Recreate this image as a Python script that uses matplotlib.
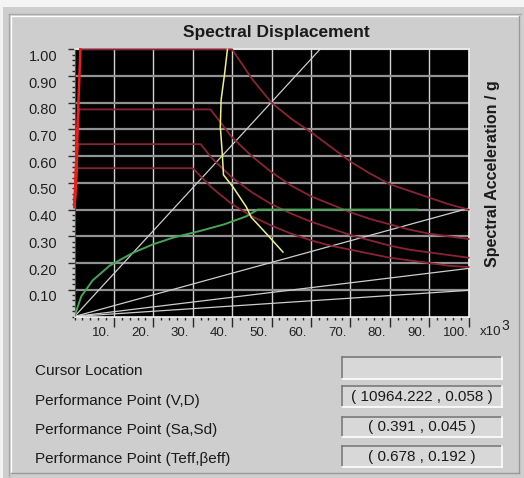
import matplotlib
matplotlib.use("Agg")
import matplotlib.pyplot as plt
from matplotlib.lines import Line2D
from matplotlib.patches import Rectangle
from matplotlib.ticker import MultipleLocator
from matplotlib.transforms import ScaledTranslation

plt.rcParams['font.family'] = ['Liberation Sans', 'DejaVu Sans']

# ---------------- data ----------------
x_ticks = [10, 20, 30, 40, 50, 60, 70, 80, 90, 100]
x_tick_labels = ['10.', '20.', '30.', '40.', '50.', '60.', '70.', '80.', '90.', '100.']
y_ticks = [0.10, 0.20, 0.30, 0.40, 0.50, 0.60, 0.70, 0.80, 0.90, 1.00]
y_tick_labels = ['0.10', '0.20', '0.30', '0.40', '0.50', '0.60', '0.70', '0.80', '0.90', '1.00']

# demand spectra (red)
demand_a_sd = [0, 1.5, 40, 45, 50, 55, 60, 65, 70, 75, 80, 85, 90, 95, 100]
demand_a_sa = [0.41, 1.0, 1.0, 0.89, 0.80, 0.74, 0.69, 0.635, 0.58, 0.535, 0.495, 0.47, 0.445, 0.42, 0.40]
demand_b_sd = [0, 1.0, 34.5, 40, 45, 50, 55, 60, 65, 70, 75, 80, 85, 90, 95, 100]
demand_b_sa = [0.41, 0.775, 0.775, 0.67, 0.60, 0.54, 0.49, 0.45, 0.42, 0.39, 0.365, 0.345, 0.325, 0.31, 0.30, 0.29]
demand_c_sd = [0, 0.8, 32, 35, 40, 45, 50, 55, 60, 65, 70, 75, 80, 85, 90, 95, 100]
demand_c_sa = [0.41, 0.645, 0.645, 0.59, 0.52, 0.465, 0.42, 0.385, 0.355, 0.33, 0.305, 0.285, 0.265, 0.25, 0.24, 0.23, 0.22]
demand_d_sd = [0, 0.6, 30, 35, 40, 45, 50, 55, 60, 65, 70, 75, 80, 85, 90, 95, 100]
demand_d_sa = [0.41, 0.555, 0.555, 0.48, 0.42, 0.375, 0.34, 0.31, 0.285, 0.265, 0.25, 0.235, 0.22, 0.21, 0.20, 0.19, 0.185]

# capacity curve (green)
capacity_sd = [0, 1.7, 4.6, 8.9, 14.8, 19.9, 25, 31.8, 38, 43.6, 46.5, 87]
capacity_sa = [0, 0.075, 0.135, 0.19, 0.238, 0.27, 0.295, 0.32, 0.345, 0.375, 0.40, 0.40]

# single demand / locus curve (yellow)
locus_sd = [38.8, 38.1, 37.2, 37.0, 37.5, 37.8, 40.2, 43.6, 44.8, 48.7, 52.9]
locus_sa = [1.0, 0.91, 0.81, 0.71, 0.61, 0.53, 0.485, 0.41, 0.372, 0.31, 0.241]

# constant-period radial lines (white), from origin to end point
period_end_sd = [62.3, 100, 100, 100]
period_end_sa = [1.0, 0.405, 0.18, 0.098]

info_labels = ['Cursor Location', 'Performance Point (V,D)',
               'Performance Point (Sa,Sd)', 'Performance Point (Teff,\u03b2eff)']
info_values = ['', '( 10964.222 , 0.058 )', '( 0.391 , 0.045 )', '( 0.678 , 0.192 )']

# ---------------- figure ----------------
W, H = 524, 478
BG = '#cecece'
fig = plt.figure(figsize=(W / 100, H / 100), dpi=100, facecolor=BG)


def fx(x):
    return x / W


def fy(y):
    return 1 - y / H


# window chrome
fig.add_artist(Rectangle((0, fy(6.5)), 1, 1 - fy(6.5), transform=fig.transFigure,
                         facecolor='#f4f4f4', edgecolor='none', zorder=0))
fig.add_artist(Rectangle((0, 0), fx(3), 1, transform=fig.transFigure,
                         facecolor='#f4f4f4', edgecolor='none', zorder=0))
fig.add_artist(Line2D([fx(9), fx(9)], [fy(14), fy(476)], transform=fig.transFigure, color='#a8a8a8', lw=1))
fig.add_artist(Line2D([fx(9), fx(521)], [fy(14), fy(14)], transform=fig.transFigure, color='#a8a8a8', lw=1))
fig.add_artist(Line2D([fx(11), fx(11)], [fy(16), fy(473)], transform=fig.transFigure, color='#ffffff', lw=1))
fig.add_artist(Line2D([fx(11), fx(519)], [fy(16), fy(16)], transform=fig.transFigure, color='#ffffff', lw=1))
fig.add_artist(Line2D([fx(519), fx(519)], [fy(16), fy(473)], transform=fig.transFigure, color='#9a9a9a', lw=1))
fig.add_artist(Line2D([fx(11), fx(519)], [fy(473), fy(473)], transform=fig.transFigure, color='#9a9a9a', lw=1))

# ---------------- axes ----------------
left_px, right_px, top_px, bottom_px = 74.5, 468.6, 49.3, 316.5
ax = fig.add_axes([fx(left_px), fy(bottom_px), (right_px - left_px) / W, (bottom_px - top_px) / H])
ax.set_facecolor('black')
ax.set_xlim(0, 100)
ax.set_ylim(0, 1.0)
ax.set_axisbelow(True)

ax.set_xticks(x_ticks)
ax.set_yticks(y_ticks)
ax.xaxis.set_minor_locator(MultipleLocator(2))
ax.yaxis.set_minor_locator(MultipleLocator(0.02))
ax.tick_params(axis='both', which='both', direction='out', color='#2a2a2a', width=1,
               labelbottom=False, labelleft=False)
ax.tick_params(axis='x', which='major', length=7)
ax.tick_params(axis='x', which='minor', length=2.5)
ax.tick_params(axis='y', which='major', length=5)
ax.tick_params(axis='y', which='minor', length=2.5)
ax.xaxis.grid(True, color='#d2d2d2', lw=1.0)
ax.yaxis.grid(True, color='#929292', lw=1.6)

for side in ['top', 'right', 'bottom']:
    ax.spines[side].set_color('#f0f0f0')
    ax.spines[side].set_linewidth(1.2)
ax.spines['left'].set_color('#505050')

# tick labels (offset like the original)
xoff = ax.get_xaxis_transform() + ScaledTranslation(-13 / 100, -10.5 / 100, fig.dpi_scale_trans)
for v, lab in zip(x_ticks, x_tick_labels):
    ax.text(v, 0, lab, transform=xoff, ha='center', va='top', fontsize=9.5, color='#202020')
yoff = ax.get_yaxis_transform() + ScaledTranslation(-17.5 / 100, -7.5 / 100, fig.dpi_scale_trans)
for v, lab in zip(y_ticks, y_tick_labels):
    ax.text(0, v, lab, transform=yoff, ha='right', va='center', fontsize=10.5, color='#202020')

# radial period lines
for sd_end, sa_end in zip(period_end_sd, period_end_sa):
    ax.plot([0, sd_end], [0, sa_end], color='#cdcdcd', lw=0.9, zorder=2)

# demand spectra
for sd, sa in [(demand_a_sd, demand_a_sa), (demand_b_sd, demand_b_sa),
               (demand_c_sd, demand_c_sa), (demand_d_sd, demand_d_sa)]:
    ax.plot(sd[1:], sa[1:], color='#8a2434', lw=1.3, zorder=3, clip_on=False)
    ax.plot(sd[:2], sa[:2], color='#f01c1c', lw=1.8, zorder=4, clip_on=False)

# capacity curve
ax.plot(capacity_sd, capacity_sa, color='#46a458', lw=1.4, zorder=5)
# locus
ax.plot(locus_sd, locus_sa, color='#eef08a', lw=1.1, zorder=6, clip_on=False)

# ---------------- text ----------------
fig.text(fx(276), fy(33), 'Spectral Displacement', ha='center', va='center',
         fontsize=12.5, fontweight='bold', color='#1a1a1a')
fig.text(fx(493), fy(174), 'Spectral Acceleration / g', ha='center', va='center',
         rotation=90, fontsize=11.5, fontweight='bold', color='#1a1a1a')
fig.text(fx(480), fy(332), 'x10', ha='left', va='center', fontsize=9.5, color='#202020')
fig.text(fx(501), fy(326), '3', ha='left', va='center', fontsize=10, color='#202020')

label_y = [371, 401, 430, 459]
box_top = [357, 386, 417, 446]
box_bot = [379, 407, 437, 467]
box_l, box_r = 342, 502
for lab, val, ly, bt, bb in zip(info_labels, info_values, label_y, box_top, box_bot):
    fig.text(fx(35), fy(ly), lab, ha='left', va='center', fontsize=11, color='#1a1a1a')
    fig.add_artist(Rectangle((fx(box_l), fy(bb)), (box_r - box_l) / W, (bb - bt) / H,
                             transform=fig.transFigure, facecolor='#d8d8d8', edgecolor='none'))
    fig.add_artist(Line2D([fx(box_l), fx(box_r)], [fy(bt), fy(bt)], transform=fig.transFigure, color='#7a7a7a', lw=1.2))
    fig.add_artist(Line2D([fx(box_l), fx(box_l)], [fy(bt), fy(bb)], transform=fig.transFigure, color='#7a7a7a', lw=1.2))
    fig.add_artist(Line2D([fx(box_l), fx(box_r)], [fy(bb), fy(bb)], transform=fig.transFigure, color='#ffffff', lw=1.2))
    fig.add_artist(Line2D([fx(box_r), fx(box_r)], [fy(bt), fy(bb)], transform=fig.transFigure, color='#ffffff', lw=1.2))
    if val:
        fig.text(fx((box_l + box_r) / 2), fy((bt + bb) / 2), val, ha='center', va='center',
                 fontsize=11, color='#1a1a1a')

fig.savefig('out.png', dpi=100, facecolor=BG)
